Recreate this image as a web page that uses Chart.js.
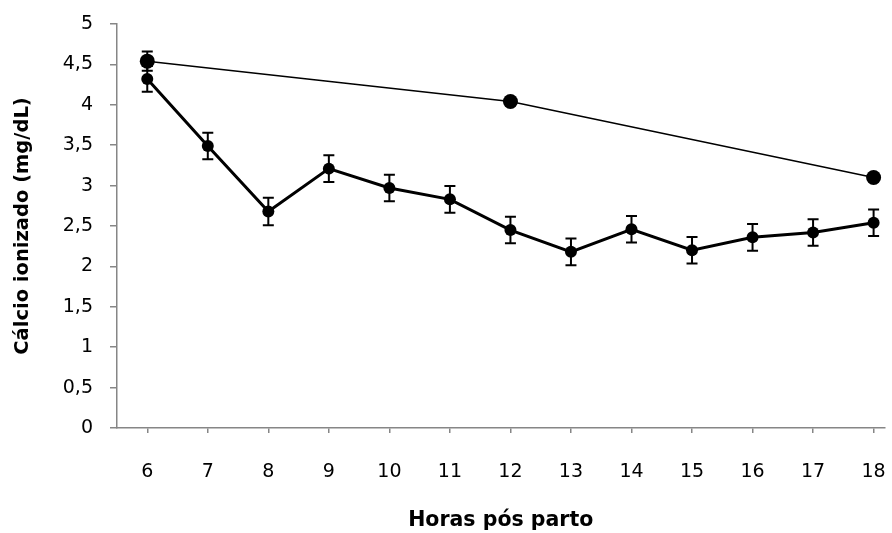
<!DOCTYPE html>
<html>
<head>
<meta charset="utf-8">
<script src="https://cdn.jsdelivr.net/npm/chart.js@4/dist/chart.umd.min.js"></script>
<style>
  html, body { margin:0; padding:0; background:#fff; overflow:hidden; }
  #wrap { width:892px; height:533px; }
</style>
</head>
<body>
<div id="wrap"><canvas id="chart" width="892" height="533"></canvas></div>
<script>
/* data */
const hours = [6, 7, 8, 9, 10, 11, 12, 13, 14, 15, 16, 17, 18];
const calcioMedia = [4.32, 3.49, 2.68, 3.21, 2.97, 2.83, 2.45, 2.18, 2.46, 2.20, 2.36, 2.42, 2.54];
const calcioErro  = [0.16, 0.165, 0.17, 0.165, 0.165, 0.165, 0.165, 0.165, 0.165, 0.165, 0.165, 0.165, 0.165];
const refHours = [6, 12, 18];
const refMedia = [4.54, 4.04, 3.10];
const refErro  = [0.12, 0, 0];
const yTicks = [0, 0.5, 1, 1.5, 2, 2.5, 3, 3.5, 4, 4.5, 5];

const AXIS = '#868686';
const FONT = 'DejaVu Sans';

/* ---------- error bars ---------- */
const errorBars = {
  id: 'errorBars',
  beforeDatasetsDraw(chart){
    const {ctx, scales:{x, y}} = chart;
    ctx.save();
    ctx.strokeStyle = '#000';
    ctx.lineWidth = 2;
    chart.data.datasets.forEach(ds => {
      if (!ds.errors) return;
      ds.data.forEach((p, i) => {
        const e = ds.errors[i]; if (!e) return;
        const px = x.getPixelForValue(p.x);
        const top = y.getPixelForValue(p.y + e), bot = y.getPixelForValue(p.y - e);
        ctx.beginPath();
        ctx.moveTo(px, top); ctx.lineTo(px, bot);
        ctx.moveTo(px - 5.5, top); ctx.lineTo(px + 5.5, top);
        ctx.moveTo(px - 5.5, bot); ctx.lineTo(px + 5.5, bot);
        ctx.stroke();
      });
    });
    ctx.restore();
  }
};

new Chart(document.getElementById('chart'), {
  type: 'line',
  data: {
    datasets: [
      {
        data: hours.map((h, i) => ({x: h, y: calcioMedia[i]})),
        errors: calcioErro,
        borderColor: '#000', backgroundColor: '#000',
        borderWidth: 3, pointRadius: 6, pointBorderWidth: 0, tension: 0
      },
      {
        data: refHours.map((h, i) => ({x: h, y: refMedia[i]})),
        errors: refErro,
        borderColor: '#000', backgroundColor: '#000',
        borderWidth: 1.5, pointRadius: 7.5, pointBorderWidth: 0, tension: 0
      }
    ]
  },
  options: {
    responsive: false,
    animation: false,
    layout: { padding: { top: 24, right: 1, left: 0, bottom: 0 } },
    plugins: { legend: { display: false }, tooltip: { enabled: false } },
    scales: {
      x: {
        type: 'linear', min: 5.5, max: 18.18,
        afterBuildTicks: s => { s.ticks = hours.map(v => ({value: v})); },
        afterFit: s => { s.height = 105; s.paddingLeft = 0; s.paddingRight = 0; },
        grid: { drawOnChartArea: false, drawTicks: true, tickLength: 5, color: AXIS, lineWidth: 1.5 },
        border: { color: AXIS, width: 1.5 },
        ticks: { color: '#000', font: { family: FONT, size: 19 }, padding: 28, maxRotation: 0 },
        title: { display: true, text: 'Horas pós parto', color: '#000',
                 font: { family: FONT, size: 20.5, weight: 'bold' }, padding: { top: 0, bottom: 0 } }
      },
      y: {
        min: 0, max: 5,
        afterBuildTicks: s => { s.ticks = yTicks.map(v => ({value: v})); },
        afterFit: s => { s.width = 117; s.paddingTop = 0; s.paddingBottom = 0; },
        grid: { drawOnChartArea: false, drawTicks: true, tickLength: 7, color: AXIS, lineWidth: 1.5 },
        border: { color: AXIS, width: 1.5 },
        ticks: { color: '#000', font: { family: FONT, size: 19 }, padding: 17,
                 callback: v => String(v).replace('.', ',') },
        title: { display: true, text: 'Cálcio ionizado (mg/dL)', color: '#000',
                 font: { family: FONT, size: 19.5, weight: 'bold' }, padding: { top: 11, bottom: 0 } }
      }
    }
  },
  plugins: [errorBars]
});
</script>
</body>
</html>
